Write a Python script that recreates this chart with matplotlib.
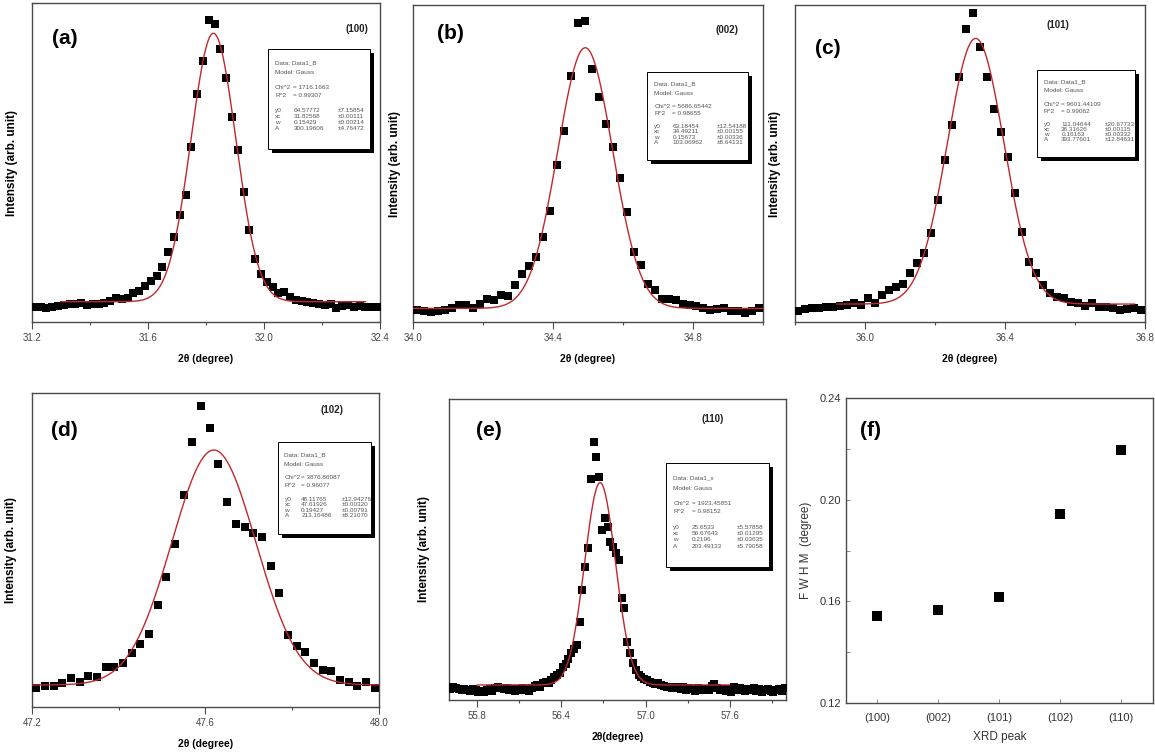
import numpy as np
import matplotlib.pyplot as plt
from matplotlib.patches import Rectangle

plt.rcParams['font.family'] = ['Liberation Sans', 'DejaVu Sans']

STEP = 0.02  # scan step (degree)

# (a) (100) peak
a_start = 31.21
a_int = [36, 32, 26, 32, 39, 45, 49, 51, 55, 45,
         51, 51, 59, 67, 84, 78, 84, 113, 128, 155,
         184, 213, 267, 350, 437, 566, 682, 961, 1264, 1459,
         1694, 1671, 1524, 1356, 1131, 942, 697, 479, 309, 225,
         180, 147, 117, 122, 93, 74, 70, 65, 55, 51,
         45, 51, 26, 39, 45, 36, 39, 32, 36, 32]
a_fit = [64.57772, 31.82568, 0.15429, 300.19606]   # y0, xc, w, A
a_err = ["±7.15854", "±0.00111", "±0.00214", "±4.76472"]
a_stats = ["1716.1663", "0.99307"]

# (b) (002) peak
b_start = 34.01
b_int = [60, 57, 55, 58, 60, 65, 70, 71, 63, 73,
         83, 80, 90, 88, 110, 132, 148, 166, 206, 260,
         352, 421, 531, 638, 642, 545, 489, 434, 389, 325,
         258, 177, 150, 112, 100, 83, 82, 80, 72, 70,
         68, 63, 60, 61, 63, 58, 57, 53, 57, 63]
b_fit = [63.18454, 34.49211, 0.15673, 103.06962]
b_err = ["±12.54188", "±0.00155", "±0.00336", "±8.64131"]
b_stats = ["5686.65442", "0.98655"]

# (c) (101) peak
c_start = 35.81
c_int = [62, 72, 79, 79, 87, 92, 96, 104, 121, 104,
         153, 116, 177, 213, 233, 257, 335, 409, 482, 633,
         872, 1165, 1421, 1774, 2121, 2243, 1994, 1770, 1538, 1372,
         1184, 926, 635, 421, 335, 250, 189, 165, 153, 128,
         116, 96, 116, 92, 87, 79, 67, 72, 79, 67]
c_fit = [111.04644, 36.31626, 0.16163, 393.77601]
c_err = ["±20.67733", "±0.00115", "±0.00332", "±12.84631"]
c_stats = ["9601.44109", "0.99062"]

# (d) (102) peak
d_start = 47.21
d_int = [36, 44, 44, 57, 75, 61, 83, 79, 116, 114,
         131, 169, 201, 238, 346, 449, 573, 756, 955, 1088,
         1007, 871, 731, 647, 638, 616, 601, 493, 390, 234,
         193, 172, 129, 104, 100, 67, 61, 44, 61, 36]
d_fit = [48.11765, 47.61926, 0.19427, 213.16486]
d_err = ["±12.94276", "±0.00320", "±0.00791", "±8.21070"]
d_stats = ["3876.86087", "0.96077"]

# (e) (110) peak
e_start = 55.61
e_int = [10, 17, 14, 10, 7, 12, 7, 5, 10, 7,
         1, 5, 0, 7, 10, 5, 14, 20, 15, 10,
         14, 7, 12, 5, 10, 7, 14, 10, 5, 14,
         22, 26, 17, 32, 38, 34, 44, 56, 62, 71,
         93, 102, 119, 144, 156, 172, 255, 373, 456, 525,
         780, 915, 860, 787, 592, 635, 604, 549, 531, 507,
         482, 342, 306, 184, 141, 105, 81, 62, 54, 46,
         44, 38, 32, 29, 32, 26, 22, 20, 17, 14,
         20, 14, 10, 17, 7, 14, 10, 5, 14, 10,
         7, 12, 7, 22, 29, 14, 7, 10, 5, 10,
         1, 17, 7, 14, 10, 5, 12, 7, 14, 5,
         10, 1, 7, 12, 5, 1, 7, 10, 5, 14]
e_fit = [25.6533, 56.67643, 0.2196, 203.49133]
e_err = ["±5.57858", "±0.01295", "±0.03635", "±5.79058"]
e_stats = ["1923.45851", "0.98152"]

# (f) FWHM per peak
peaks = ["(100)", "(002)", "(101)", "(102)", "(110)"]
fwhm = [0.15429, 0.15673, 0.16163, 0.19427, 0.2196]

FRAME = '#4a4a4a'
RED = '#c0282d'


def gauss(x, y0, xc, w, A):
    return y0 + A / (w * np.sqrt(np.pi / 2)) * np.exp(-2 * ((x - xc) / w) ** 2)


def fit_box(ax, box, name, fit, err, stats, fs=4.6):
    x0, y0, x1, y1 = box
    w, h = x1 - x0, y1 - y0
    ax.add_patch(Rectangle((x0 + 0.011, y0 - 0.013), w, h, transform=ax.transAxes,
                           facecolor='black', edgecolor='none', zorder=5, clip_on=False))
    ax.add_patch(Rectangle((x0, y0), w, h, transform=ax.transAxes,
                           facecolor='white', edgecolor='black', linewidth=0.7,
                           zorder=6, clip_on=False))
    rows = [0.14, 0.24, 0.39, 0.47, 0.62, 0.68, 0.74, 0.80]
    cols = [0.07, 0.25, 0.69]
    kw = dict(transform=ax.transAxes, fontsize=fs, color='#555555', va='center',
              ha='left', zorder=7)

    def put(col, row, s):
        ax.text(x0 + cols[col] * w, y1 - rows[row] * h, s, **kw)

    put(0, 0, "Data: " + name)
    put(0, 1, "Model: Gauss")
    put(0, 2, "Chi^2")
    put(1, 2, "= " + stats[0])
    put(0, 3, "R^2")
    put(1, 3, "= " + stats[1])
    for i, p in enumerate(["y0", "xc", "w", "A"]):
        put(0, 4 + i, p)
        put(1, 4 + i, str(fit[i]))
        put(2, 4 + i, err[i])


def peak_panel(rect, start, inten, fit, span, xlim, ylim, major, minor, letter,
               letter_xy, hkl, hkl_xy, box, name, err, stats, xlabel, ylab_x):
    ax = fig.add_axes(rect)
    x = np.round(start + STEP * np.arange(len(inten)), 2)
    ax.plot(x, inten, 's', color='black', markersize=5.4, markeredgewidth=0, zorder=3)
    xf = np.linspace(span[0], span[1], 600)
    ax.plot(xf, gauss(xf, *fit), color=RED, linewidth=1.0, zorder=4)
    ax.set_xlim(*xlim)
    ax.set_ylim(*ylim)
    ax.set_xticks(major)
    ax.set_xticklabels(['%.1f' % v for v in major])
    ax.set_xticks(minor, minor=True)
    ax.set_yticks([])
    ax.tick_params(axis='x', which='major', direction='out', length=5, width=0.8,
                   color=FRAME, labelsize=7, labelcolor='#444444', pad=3)
    ax.tick_params(axis='x', which='minor', direction='out', length=2.5, width=0.8,
                   color=FRAME)
    for s in ax.spines.values():
        s.set_color(FRAME)
        s.set_linewidth(1.0)
    ax.set_xlabel(xlabel, fontsize=7.5, fontweight='bold', labelpad=8)
    ax.set_ylabel("Intensity (arb. unit)", fontsize=8.5, fontweight='bold')
    ax.yaxis.set_label_coords(ylab_x, 0.5)
    ax.text(*letter_xy, letter, transform=ax.transAxes, fontsize=15,
            fontweight='bold', ha='center', va='center')
    ax.text(*hkl_xy, hkl, transform=ax.transAxes, fontsize=7,
            fontweight='bold', ha='center', va='center', color='#222222')
    fit_box(ax, box, name, fit, err, stats)
    return ax


fig = plt.figure(figsize=(11.55, 7.56), dpi=100)

peak_panel([0.0277, 0.574, 0.3013, 0.4220], a_start, a_int, a_fit, (31.3, 32.35),
           (31.2, 32.4), (-53, 1792), [31.2, 31.6, 32.0, 32.4], [31.4, 31.8, 32.2],
           "(a)", (0.095, 0.89), "(100)", (0.934, 0.92),
           (0.678, 0.544, 0.971, 0.856), "Data1_B", a_err, a_stats,
           "2θ (degree)", -0.04)

peak_panel([0.3576, 0.574, 0.3030, 0.4193], b_start, b_int, b_fit, (34.0, 35.0),
           (34.0, 35.0), (35.7, 673.8), [34.0, 34.4, 34.8], [34.2, 34.6, 35.0],
           "(b)", (0.106, 0.91), "(002)", (0.897, 0.92),
           (0.669, 0.511, 0.957, 0.789), "Data1_B", b_err, b_stats,
           "2θ (degree)", -0.034)

peak_panel([0.6883, 0.574, 0.3030, 0.4193], c_start, c_int, c_fit, (35.92, 36.77),
           (35.8, 36.8), (-20.7, 2298.8), [36.0, 36.4, 36.8], [35.8, 36.2, 36.6],
           "(c)", (0.094, 0.864), "(101)", (0.751, 0.937),
           (0.691, 0.52, 0.971, 0.795), "Data1_B", c_err, c_stats,
           "2θ (degree)", -0.04)

peak_panel([0.0277, 0.0648, 0.3004, 0.4153], d_start, d_int, d_fit, (47.2, 48.0),
           (47.2, 48.0), (-33.8, 1135.9), [47.2, 47.6, 48.0], [47.4, 47.8],
           "(d)", (0.092, 0.882), "(102)", (0.865, 0.946),
           (0.709, 0.551, 0.977, 0.844), "Data1_B", d_err, d_stats,
           "2θ (degree)", -0.043)

peak_panel([0.3887, 0.0741, 0.2918, 0.3981], e_start, e_int, e_fit, (55.8, 57.6),
           (55.6, 58.0), (-29.2, 1070.7), [55.8, 56.4, 57.0, 57.6], [56.1, 56.7, 57.3, 57.9],
           "(e)", (0.119, 0.897), "(110)", (0.783, 0.934),
           (0.644, 0.442, 0.950, 0.787), "Data1_x", e_err, e_stats,
           "2θ(degree)", -0.056)

# (f) FWHM vs peak
axf = fig.add_axes([0.7325, 0.0701, 0.2658, 0.4034])
pos = np.arange(1, len(peaks) + 1)
axf.plot(pos, fwhm, 's', color='black', markersize=7, markeredgewidth=0)
axf.set_xlim(0.49, 5.52)
axf.set_ylim(0.12, 0.24)
axf.set_xticks(pos)
axf.set_xticklabels(peaks)
axf.set_yticks([0.12, 0.16, 0.20, 0.24])
axf.set_yticklabels(['0.12', '0.16', '0.20', '0.24'])
axf.set_yticks([0.14, 0.18, 0.22], minor=True)
axf.tick_params(which='both', direction='in', length=3, width=0.7, color='#888888',
                labelsize=8, labelcolor='#333333')
axf.tick_params(axis='x', pad=7)
for s in axf.spines.values():
    s.set_color(FRAME)
    s.set_linewidth(1.0)
axf.set_xlabel("XRD peak", fontsize=8.5, color='#333333', labelpad=6)
axf.set_ylabel("F W H M  (degree)", fontsize=8.5, color='#333333')
axf.yaxis.set_label_coords(-0.112, 0.5)
axf.text(0.081, 0.895, "(f)", transform=axf.transAxes, fontsize=15,
         fontweight='bold', ha='center', va='center')

fig.savefig('out.png', dpi=100, facecolor='white')
